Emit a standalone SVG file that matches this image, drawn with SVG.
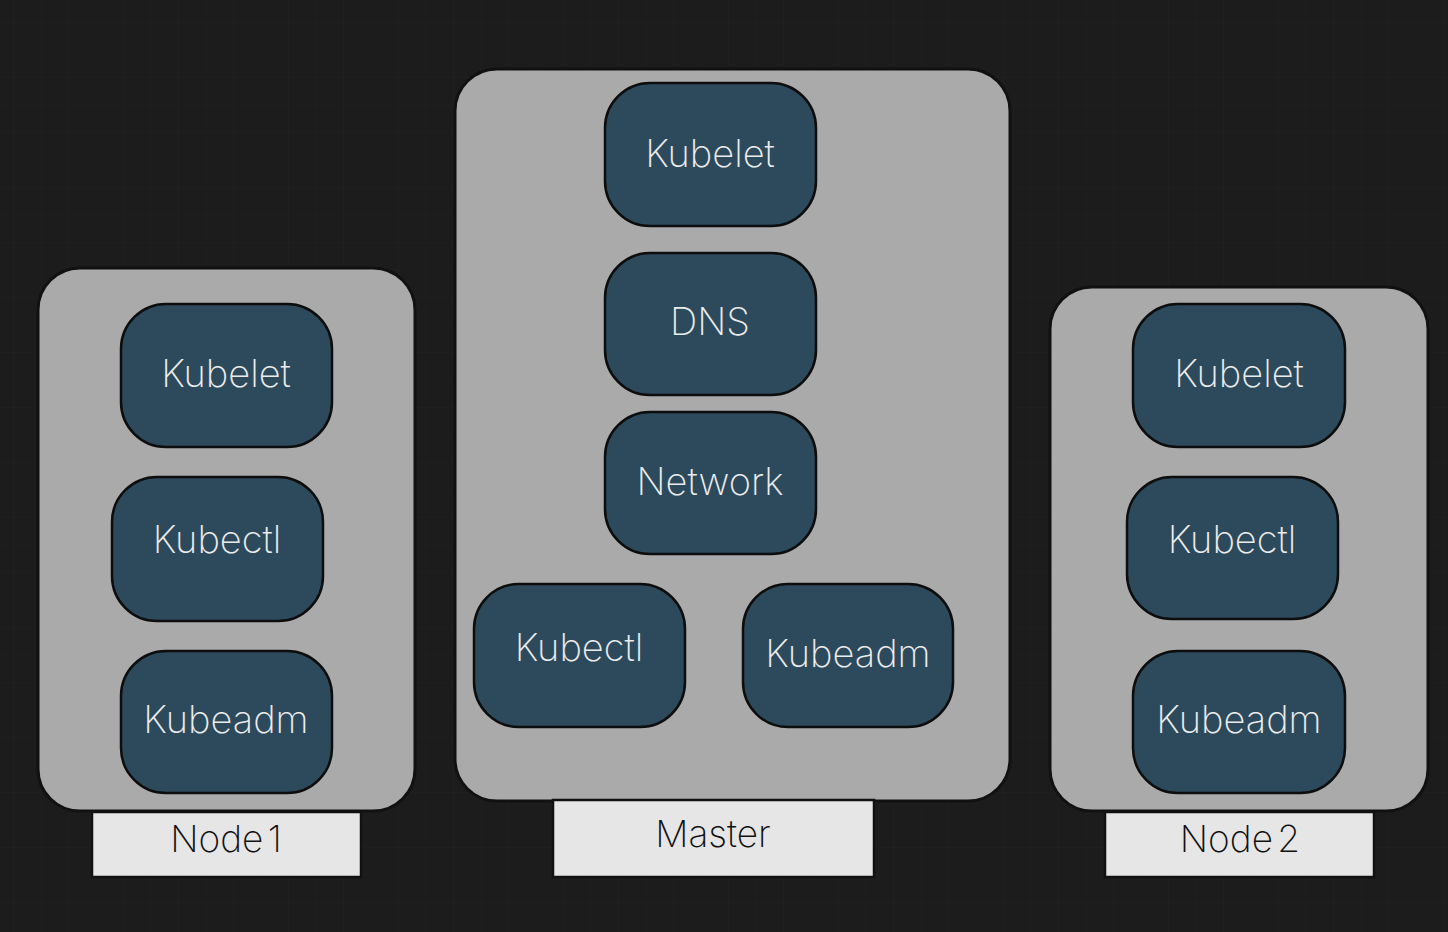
<svg xmlns="http://www.w3.org/2000/svg" width="1448" height="932" viewBox="0 0 1448 932">
<defs>
<pattern id="grid" x="13" y="22" width="27.5" height="27.5" patternUnits="userSpaceOnUse">
<path d="M0 0H27.5M0 0V27.5" fill="none" stroke="#212121" stroke-width="1"/>
</pattern>
</defs>
<style>
.cont{fill:#aaaaaa;stroke:#111;stroke-width:3}
.box{fill:#2c4a5c;stroke:#0d0d0d;stroke-width:2.5}
.lbl{fill:#e6e6e6;stroke:#111;stroke-width:2.5}
.t{font-family:Inter,"Noto Sans",sans-serif;font-weight:200;font-size:38px;fill:#ececec;text-anchor:middle}
.lt{font-family:Inter,"Noto Sans",sans-serif;font-weight:200;font-size:37px;fill:#111;text-anchor:middle}
</style>
<rect width="1448" height="932" fill="#1c1c1c"/>
<rect width="1448" height="932" fill="url(#grid)"/>
<g id="node1">
<rect class="cont" x="38" y="268" width="377" height="543" rx="42"/>
<rect class="lbl" x="92" y="812" width="269" height="65"/>
<text class="lt" x="226" y="852" word-spacing="-6">Node 1</text>
</g>
<g id="master">
<rect class="cont" x="455" y="69" width="555" height="732" rx="42"/>
<rect class="lbl" x="553" y="800" width="321" height="77"/>
<text class="lt" x="713" y="847">Master</text>
</g>
<g id="node2">
<rect class="cont" x="1050" y="287" width="378" height="524" rx="42"/>
<rect class="lbl" x="1105" y="812" width="269" height="65"/>
<text class="lt" x="1240" y="852" word-spacing="-6">Node 2</text>
</g>
<g id="n1-kubelet"><rect class="box" x="121" y="304" width="211" height="143" rx="45"/><text class="t" x="226" y="387">Kubelet</text></g>
<g id="n1-kubectl"><rect class="box" x="112" y="477" width="211" height="144" rx="45"/><text class="t" x="217" y="553">Kubectl</text></g>
<g id="n1-kubeadm"><rect class="box" x="121" y="651" width="211" height="142" rx="45"/><text class="t" x="226" y="733">Kubeadm</text></g>
<g id="m-kubelet"><rect class="box" x="605" y="83" width="211" height="143" rx="45"/><text class="t" x="710" y="167">Kubelet</text></g>
<g id="m-dns"><rect class="box" x="605" y="253" width="211" height="142" rx="45"/><text class="t" x="710" y="335">DNS</text></g>
<g id="m-network"><rect class="box" x="605" y="412" width="211" height="142" rx="45"/><text class="t" x="710" y="495">Network</text></g>
<g id="m-kubectl"><rect class="box" x="474" y="584" width="211" height="143" rx="45"/><text class="t" x="579" y="661">Kubectl</text></g>
<g id="m-kubeadm"><rect class="box" x="743" y="584" width="210" height="143" rx="45"/><text class="t" x="848" y="667">Kubeadm</text></g>
<g id="n2-kubelet"><rect class="box" x="1133" y="304" width="212" height="143" rx="45"/><text class="t" x="1239" y="387">Kubelet</text></g>
<g id="n2-kubectl"><rect class="box" x="1127" y="477" width="211" height="142" rx="45"/><text class="t" x="1232" y="553">Kubectl</text></g>
<g id="n2-kubeadm"><rect class="box" x="1133" y="651" width="212" height="142" rx="45"/><text class="t" x="1239" y="733">Kubeadm</text></g>
<g id="connectors"></g>
</svg>
